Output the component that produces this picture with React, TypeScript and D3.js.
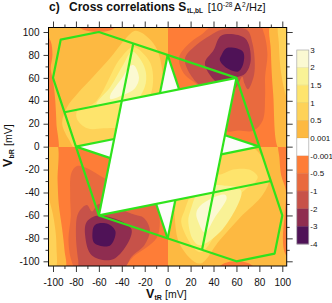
import { useEffect, useRef } from 'react';
import * as d3 from 'd3';

type Pt = [number, number];

const WIDTH = 332;
const HEIGHT = 303;
const FONT = '"Liberation Sans", Arial, sans-serif';

const xTicks = [-100, -80, -60, -40, -20, 0, 20, 40, 60, 80, 100];
const yTicks = [-100, -80, -60, -40, -20, 0, 20, 40, 60, 80, 100];
const minorTicks = [-90, -70, -50, -30, -10, 10, 30, 50, 70, 90];

// colour bar, top to bottom
const barLevels = ['3', '2', '1.5', '1', '0.5', '0.001', '-0.001', '-0.5', '-1', '-2', '-3', '-4'];
const barColors = ['#fbf9d2', '#f9f296', '#fee46c', '#fed258', '#fdb941', '#ffffff', '#fe7d37', '#e96a3e', '#c75249', '#8f2d50', '#4f1257'];

const POS = '#fdb941';
const NEG = '#fe7d37';

// top left quadrant (positive)
const tlBand05: Pt[] = [[-28, 101], [-36, 95], [-48, 80], [-65, 61], [-78, 47], [-88, 34], [-92, 20], [-86, 6], [-80, -2], [-40, -2], [-5, 30], [-4, 60], [-9, 84], [-17, 95]];
const tlBand1: Pt[] = [[-30, 87], [-20, 80], [-14, 70], [-14, 48], [-30, 20], [-56, 16], [-70, 16], [-79, 24], [-79, 31], [-63, 39], [-42, 76]];
const tlBand15: Pt[] = [[-31, 83], [-23, 75], [-19, 65], [-20, 52], [-30, 38], [-50, 38], [-62, 37], [-50, 52], [-39, 71]];
const tlBand2: Pt[] = [[-29.5, 71], [-25, 60], [-28.5, 51], [-39, 45], [-50, 41.5], [-50, 45], [-39, 61], [-33, 70]];
const tlStripNeg: Pt[] = [[-106, 97], [-102, 92], [-100.5, 80], [-102, 68], [-100, 58], [-98, 40], [-97, 20], [-96, -3], [-106, -3]];
const tlTopNeg: Pt[] = [[-80, 106], [-72, 101.5], [-60, 100], [-50, 101.5], [-44, 106]];

// bottom right quadrant (positive)
const brBand05: Pt[] = [[28, -102], [11, -86], [6, -58], [7, -30], [40, 2], [70, 2], [83, -10], [89, -27], [83, -42], [63, -62], [45, -82]];
const brBand1: Pt[] = [[28, -92], [12, -67], [15, -55], [30, -25], [47, -24], [57, -20], [71, -20], [78.5, -26], [77, -30], [63, -42], [43, -75]];
const brBand15: Pt[] = [[28, -86], [22, -81], [18, -65], [19.5, -57], [30, -35], [50, -34], [62, -36], [64.5, -40.5], [48, -72]];
const brBand2: Pt[] = [[32.5, -75], [26.5, -65], [25, -58], [28, -52], [38.5, -45], [50, -42], [51.5, -45], [41, -62]];
const brStripNeg: Pt[] = [[106, 3], [97, 3], [97.5, -10], [99, -25], [103, -38], [102, -60], [100.5, -80], [102, -92], [106, -97]];
const brBottomNeg: Pt[] = [[44, -106], [50, -101.5], [60, -100], [70, -101.5], [76, -106]];

// top right quadrant (negative)
const trBand05: Pt[] = [[40, 106], [31, 99], [20, 91], [10, 78], [14, 64], [30, 50], [50, 14], [62, 14], [75, 14], [83, 23], [85, 44], [85, 61], [87, 81], [84, 99], [80, 106]];
const trBand1: Pt[] = [[15, 76], [25.5, 89], [37, 97], [47, 102], [69, 102], [74, 90], [76, 73], [75, 61], [70, 50], [67, 55], [65, 61], [58, 50], [30, 52]];
const trBand2: Pt[] = [[47, 97], [67.5, 94.5], [72.5, 76], [68, 64], [59, 60], [45, 55], [32.5, 72.5], [40, 84]];
const trBand3: Pt[] = [[51.5, 86], [65.5, 83], [66, 72.5], [61.5, 65.5], [51.5, 68.5], [45.5, 75.5], [47, 80]];
const trStripPos: Pt[] = [[90, 106], [90, 84], [92, 46.5], [97.5, -3], [106, -3], [106, 106]];
const trStrip05: Pt[] = [[97, 106], [97, 90], [99, 64], [103.5, 44], [106, 40], [106, 106]];

// bottom left quadrant (negative)
const blBand05: Pt[] = [[-79.5, -17], [-73.5, -17.5], [-50, -30], [-10, -45], [-7, -60], [-9.5, -79.5], [-30, -96], [-40, -106], [-80, -106], [-84, -99], [-86.5, -81], [-84.5, -61], [-85, -44], [-84, -23]];
const blBand1: Pt[] = [[-70.5, -51], [-66, -56.5], [-60, -50], [-28.5, -59.5], [-21, -62], [-15.5, -72.5], [-20, -85.5], [-31.5, -96], [-38.5, -106], [-76.5, -106], [-78, -99], [-80, -75.5], [-78, -58]];
const blBand2: Pt[] = [[-70.5, -65.5], [-60, -60], [-31.5, -72], [-47, -98], [-66, -95], [-72, -77]];
const blBand3: Pt[] = [[-60.5, -67], [-52, -67.5], [-45.5, -74], [-50.5, -86.5], [-64, -84], [-65.5, -74], [-64, -69]];
const blStripPos: Pt[] = [[-106, 3], [-97, 3], [-96, -30], [-95, -50], [-92, -72], [-90, -90], [-89.5, -106], [-106, -106]];
const blStrip05: Pt[] = [[-106, -40], [-101, -55], [-98, -72], [-97, -87], [-98, -106], [-106, -106]];

// kinematically forbidden area
const whiteCentre: Pt[] = [[-40, 40], [60, 60], [40, -40], [-60, -60]];
const whiteWedges: Pt[][] = [
  [[-80, 0], [-46.7, 6.7], [-50, -10]],
  [[80, 0], [46.7, -6.7], [50, 10]],
  [[0, 80], [10, 50], [-6.7, 46.7]],
  [[0, -80], [-10, -50], [6.7, -46.7]],
];

// green tile boundaries
const greenHull: Pt[] = [[-60, 100], [-93.3, 93.3], [-100, 60], [-80, 0], [-60, -60], [60, -100], [93.3, -93.3], [100, -60], [80, 0], [60, 60]];
const greenLines: Pt[][] = [
  [[-90, 30], [60, 60]],
  [[-60, -60], [90, -30]],
  [[-30, 90], [-60, -60]],
  [[60, 60], [30, -90]],
  [[-80, 0], [-46.7, 6.7]],
  [[-80, 0], [-50, -10]],
  [[80, 0], [50, 10]],
  [[80, 0], [46.7, -6.7]],
  [[0, 80], [10, 50]],
  [[0, 80], [-6.7, 46.7]],
  [[0, -80], [-10, -50]],
  [[0, -80], [6.7, -46.7]],
];

const App = () => {
  const svgRef = useRef<SVGSVGElement>(null);

  useEffect(() => {
    const svg = d3.select(svgRef.current);
    svg.selectAll('*').remove();
    svg.attr('font-family', FONT);

    const x = d3.scaleLinear().domain([-100, 100]).range([53, 282.3]);
    const y = d3.scaleLinear().domain([-100, 100]).range([261.3, 32]);
    const left = 48.5;
    const right = 286.7;
    const top = 27.5;
    const bottom = 266;
    // whole pixels, so the quadrants meet without a seam
    const midX = Math.round(x(0));
    const midY = Math.round(y(0));

    const smooth = d3.line<Pt>().x(d => x(d[0])).y(d => y(d[1])).curve(d3.curveCatmullRomClosed.alpha(0.5));
    const straight = d3.line<Pt>().x(d => x(d[0])).y(d => y(d[1]));

    const quadrants = [
      {
        id: 'tl', box: [left, top, midX - left, midY - top], base: POS,
        bands: [[tlBand05, barColors[3]], [tlBand1, barColors[2]], [tlBand15, barColors[1]], [tlBand2, barColors[0]], [tlStripNeg, NEG], [tlTopNeg, NEG]],
      },
      {
        id: 'tr', box: [midX, top, right - midX, midY - top], base: NEG,
        bands: [[trBand05, barColors[7]], [trBand1, barColors[8]], [trBand2, barColors[9]], [trBand3, barColors[10]], [trStripPos, POS], [trStrip05, barColors[3]]],
      },
      {
        id: 'bl', box: [left, midY, midX - left, bottom - midY], base: NEG,
        bands: [[blBand05, barColors[7]], [blBand1, barColors[8]], [blBand2, barColors[9]], [blBand3, barColors[10]], [blStripPos, POS], [blStrip05, barColors[3]]],
      },
      {
        id: 'br', box: [midX, midY, right - midX, bottom - midY], base: POS,
        bands: [[brBand05, barColors[3]], [brBand1, barColors[2]], [brBand15, barColors[1]], [brBand2, barColors[0]], [brStripNeg, NEG], [brBottomNeg, NEG]],
      },
    ] as { id: string; box: number[]; base: string; bands: [Pt[], string][] }[];

    const defs = svg.append('defs');
    quadrants.forEach(q => {
      defs.append('clipPath').attr('id', `clip-${q.id}`)
        .append('rect').attr('x', q.box[0]).attr('y', q.box[1]).attr('width', q.box[2]).attr('height', q.box[3]);
      const g = svg.append('g').attr('clip-path', `url(#clip-${q.id})`);
      g.append('rect').attr('x', q.box[0]).attr('y', q.box[1]).attr('width', q.box[2]).attr('height', q.box[3]).attr('fill', q.base);
      q.bands.forEach(([pts, color]) => {
        g.append('path').attr('d', smooth(pts)).attr('fill', color);
      });
    });

    svg.append('path').attr('d', `${straight(whiteCentre)}Z`).attr('fill', '#fff');
    whiteWedges.forEach(w => svg.append('path').attr('d', `${straight(w)}Z`).attr('fill', '#fcfcfa'));

    const green = svg.append('g').attr('fill', 'none').attr('stroke', '#2fe31c').attr('stroke-width', 2.2).attr('stroke-linejoin', 'round');
    green.append('path').attr('d', `${straight(greenHull)}Z`);
    greenLines.forEach(l => green.append('path').attr('d', straight(l)));

    // frame and ticks
    svg.append('rect').attr('x', left).attr('y', top).attr('width', right - left).attr('height', bottom - top)
      .attr('fill', 'none').attr('stroke', '#000').attr('stroke-width', 1);

    const addAxis = (axis: d3.Axis<number>, tx: number, ty: number, labels: boolean) => {
      const a = svg.append('g').attr('transform', `translate(${tx},${ty})`).call(axis as any);
      a.select('.domain').remove();
      a.selectAll('line').attr('stroke', '#222').attr('stroke-width', 0.9);
      a.selectAll('text').attr('font-family', FONT).attr('font-size', 10).attr('fill', '#111');
      if (!labels) a.selectAll('text').remove();
    };
    const fmt = (d: number) => `${d}`;

    addAxis(d3.axisBottom<number>(x).tickValues(xTicks).tickSize(6).tickPadding(7).tickFormat(fmt), 0, bottom, true);
    addAxis(d3.axisBottom<number>(x).tickValues(minorTicks).tickSize(3).tickFormat(() => ''), 0, bottom, false);
    addAxis(d3.axisTop<number>(x).tickValues(xTicks).tickSize(6).tickFormat(() => ''), 0, top, false);
    addAxis(d3.axisTop<number>(x).tickValues(minorTicks).tickSize(3).tickFormat(() => ''), 0, top, false);
    addAxis(d3.axisLeft<number>(y).tickValues(yTicks).tickSize(5).tickPadding(4).tickFormat(fmt), left, 0, true);
    addAxis(d3.axisLeft<number>(y).tickValues(minorTicks).tickSize(3).tickFormat(() => ''), left, 0, false);
    addAxis(d3.axisRight<number>(y).tickValues(yTicks).tickSize(6).tickFormat(() => ''), right, 0, false);
    addAxis(d3.axisRight<number>(y).tickValues(minorTicks).tickSize(3).tickFormat(() => ''), right, 0, false);

    // colour bar
    const bar = d3.scalePoint<string>().domain(barLevels).range([50, 244]);
    const barX = 296.8;
    const barW = 12;
    const cb = svg.append('g');
    barColors.forEach((c, i) => {
      const y0 = bar(barLevels[i]) as number;
      const y1 = bar(barLevels[i + 1]) as number;
      cb.append('rect').attr('x', barX).attr('y', y0).attr('width', barW).attr('height', y1 - y0).attr('fill', c);
      cb.append('line').attr('x1', barX).attr('x2', barX + barW).attr('y1', y1).attr('y2', y1)
        .attr('stroke', d3.color(c)?.darker(0.5).formatHex() ?? c).attr('stroke-width', 0.6);
    });
    cb.append('rect').attr('x', barX).attr('y', 50).attr('width', barW).attr('height', 194)
      .attr('fill', 'none').attr('stroke', '#aaa').attr('stroke-width', 0.7);
    barLevels.forEach(l => {
      cb.append('text').attr('x', barX + barW + 1.5).attr('y', (bar(l) as number) + 2.8)
        .attr('font-size', 8).attr('fill', '#111').text(l);
    });

    // title
    const title = svg.append('g').attr('fill', '#111');
    title.append('text').attr('x', 49).attr('y', 10.5).attr('font-size', 12).attr('font-weight', 'bold').text('c)');
    title.append('text').attr('x', 69).attr('y', 10.5).attr('font-size', 12).attr('font-weight', 'bold').text('Cross correlations S');
    title.append('text').attr('x', 187).attr('y', 12.5).attr('font-size', 6.5).attr('font-weight', 'bold').text('tL,bL');
    title.append('text').attr('x', 207.7).attr('y', 10.5).attr('font-size', 11).text('[10');
    title.append('text').attr('x', 223).attr('y', 6.5).attr('font-size', 6.5).text('-28');
    title.append('text').attr('x', 234).attr('y', 10.5).attr('font-size', 11).text('A');
    title.append('text').attr('x', 242).attr('y', 6.5).attr('font-size', 6.5).text('2');
    title.append('text').attr('x', 246).attr('y', 10.5).attr('font-size', 11).text('/Hz]');

    // axis titles
    const xl = svg.append('g').attr('fill', '#111');
    xl.append('text').attr('x', 146).attr('y', 298).attr('font-size', 12.5).attr('font-weight', 'bold').text('V');
    xl.append('text').attr('x', 154.5).attr('y', 300).attr('font-size', 7).attr('font-weight', 'bold').text('tR');
    xl.append('text').attr('x', 165).attr('y', 298).attr('font-size', 10.5).text('[mV]');

    const yl = svg.append('g').attr('fill', '#111').attr('transform', 'translate(12,167) rotate(-90)');
    yl.append('text').attr('x', 0).attr('y', 0).attr('font-size', 12.5).attr('font-weight', 'bold').text('V');
    yl.append('text').attr('x', 8.5).attr('y', 2).attr('font-size', 7).attr('font-weight', 'bold').text('bR');
    yl.append('text').attr('x', 21).attr('y', 0).attr('font-size', 10.5).text('[mV]');
  }, []);

  return <svg ref={svgRef} width={WIDTH} height={HEIGHT} style={{ position: 'absolute', left: 0, top: 0, display: 'block', background: '#fff' }} />;
};

export default App;
